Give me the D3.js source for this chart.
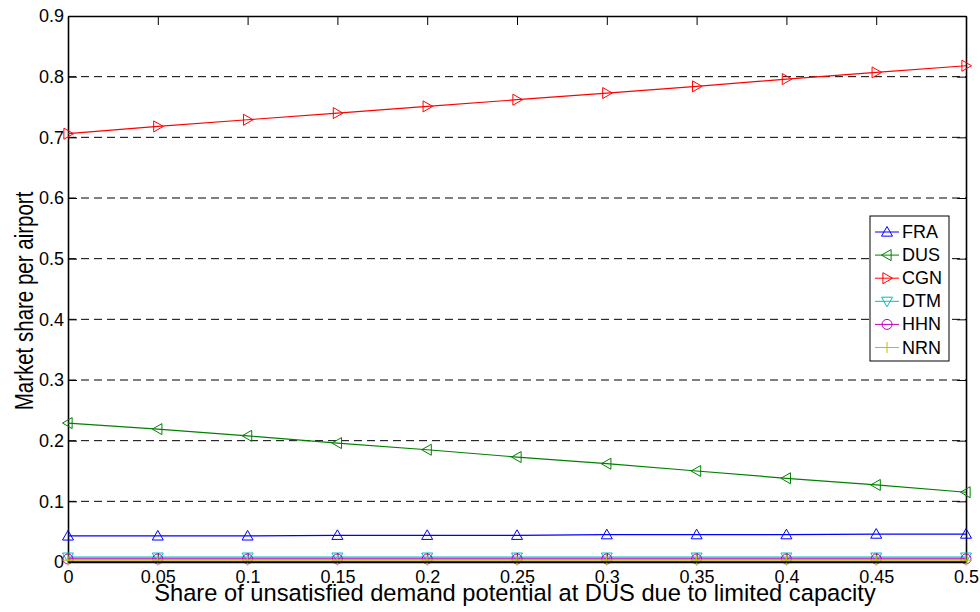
<!DOCTYPE html>
<html><head><meta charset="utf-8">
<script src="https://cdn.jsdelivr.net/npm/d3@7"></script>
<style>body{margin:0;background:#fff}svg{display:block}text{font-family:"Liberation Sans",Arial,sans-serif}</style>
</head><body>
<svg id="c" width="980" height="612"></svg>
<script>
const xValues = [0,0.05,0.1,0.15,0.2,0.25,0.3,0.35,0.4,0.45,0.5];
const xTicks = [0,0.05,0.1,0.15,0.2,0.25,0.3,0.35,0.4,0.45,0.5];
const yTicks = [0,0.1,0.2,0.3,0.4,0.5,0.6,0.7,0.8,0.9];
const FRA = [0.043,0.043,0.043,0.044,0.044,0.044,0.045,0.045,0.045,0.046,0.046];
const DUS = [0.229,0.219,0.208,0.196,0.185,0.173,0.162,0.150,0.138,0.127,0.115];
const CGN = [0.706,0.718,0.729,0.740,0.751,0.762,0.773,0.784,0.796,0.807,0.818];
const DTM = [0.008,0.008,0.008,0.008,0.008,0.008,0.008,0.008,0.008,0.008,0.008];
const HHN = [0.005,0.005,0.005,0.005,0.005,0.005,0.005,0.005,0.005,0.005,0.005];
const NRN = [0.003,0.003,0.003,0.003,0.003,0.003,0.003,0.003,0.003,0.003,0.003];
const seriesNames = ["FRA","DUS","CGN","DTM","HHN","NRN"];
const seriesData = [FRA,DUS,CGN,DTM,HHN,NRN];
const colors = ["#0000ff","#008000","#ff0000","#00bfbf","#bf00bf","#bfbf00"];
const markers = ["up","left","right","down","circle","plus"];

const L=68,R=966,T=16,B=562;
const svg=d3.select("#c");
const x=d3.scaleLinear().domain([0,0.5]).range([L,R]);
const y=d3.scaleLinear().domain([0,0.9]).range([B,T]);

// grid
svg.append("g").selectAll("line").data(yTicks.filter(v=>v>0&&v<0.9)).join("line")
 .attr("x1",L).attr("x2",R).attr("y1",d=>y(d)).attr("y2",d=>y(d))
 .attr("stroke","#000").attr("stroke-width",1).attr("stroke-dasharray","8,5");

// axes
const fmt=d=>String(+d.toFixed(2));
const ax=svg.append("g").attr("transform",`translate(0,${B})`).call(d3.axisBottom(x).tickValues(xTicks).tickFormat(fmt).tickSizeInner(-9).tickSizeOuter(0).tickPadding(8));
const axT=svg.append("g").attr("transform",`translate(0,${T})`).call(d3.axisTop(x).tickValues(xTicks).tickFormat("").tickSizeInner(-9).tickSizeOuter(0));
const ay=svg.append("g").attr("transform",`translate(${L},0)`).call(d3.axisLeft(y).tickValues(yTicks).tickFormat(fmt).tickSizeInner(-9).tickSizeOuter(0).tickPadding(4));
const ayR=svg.append("g").attr("transform",`translate(${R},0)`).call(d3.axisRight(y).tickValues(yTicks).tickFormat("").tickSizeInner(-9).tickSizeOuter(0));
[ax,axT,ay,ayR].forEach(g=>{g.selectAll("path").attr("stroke","#000").attr("stroke-width",1.6);g.selectAll("line").attr("stroke","#000");g.selectAll("text").attr("fill","#000").style("font-size","18px");});

function marker(g,type,cx,cy,col,s){
  s=s||5.5;
  if(type==="circle"){g.append("circle").attr("cx",cx).attr("cy",cy).attr("r",s-0.5).attr("fill","none").attr("stroke",col);return;}
  if(type==="plus"){g.append("path").attr("d",`M${cx-s},${cy}H${cx+s}M${cx},${cy-s}V${cy+s}`).attr("stroke",col).attr("fill","none");return;}
  let p;
  if(type==="up") p=[[cx,cy-s],[cx+s,cy+s*0.75],[cx-s,cy+s*0.75]];
  if(type==="down") p=[[cx,cy+s],[cx+s,cy-s*0.75],[cx-s,cy-s*0.75]];
  if(type==="left") p=[[cx-s,cy],[cx+s*0.75,cy-s],[cx+s*0.75,cy+s]];
  if(type==="right") p=[[cx+s,cy],[cx-s*0.75,cy-s],[cx-s*0.75,cy+s]];
  g.append("path").attr("d","M"+p.join("L")+"Z").attr("fill","none").attr("stroke",col);
}

const line=d3.line().x((d,i)=>x(xValues[i])).y(d=>y(d));
seriesData.forEach((arr,k)=>{
  const g=svg.append("g");
  g.append("path").datum(arr).attr("d",line).attr("fill","none").attr("stroke",colors[k]).attr("stroke-width",1.2);
  arr.forEach((v,i)=>marker(g,markers[k],x(xValues[i]),y(v),colors[k]));
});
svg.append("line").attr("x1",L).attr("x2",R).attr("y1",B).attr("y2",B).attr("stroke","#000").attr("stroke-width",1.6);

// legend
const lg=svg.append("g");
lg.append("rect").attr("x",870).attr("y",216).attr("width",79).attr("height",145).attr("fill","#fff").attr("stroke","#000");
seriesNames.forEach((n,k)=>{
  const yy=232+k*23.1;
  lg.append("line").attr("x1",875).attr("x2",899).attr("y1",yy).attr("y2",yy).attr("stroke",colors[k]);
  marker(lg,markers[k],887,yy,colors[k],5.5);
  lg.append("text").attr("x",902).attr("y",yy+6).text(n).style("font-size","18px").attr("fill","#000");
});

// labels
svg.append("text").attr("x",515).attr("y",601).attr("text-anchor","middle").style("font-size","23.7px").text("Share of unsatisfied demand potential at DUS due to limited capacity");
svg.append("text").attr("transform",`translate(33,301) rotate(-90) scale(1,1.3)`).attr("text-anchor","middle").style("font-size","20.5px").text("Market share per airport");
</script>
</body></html>
